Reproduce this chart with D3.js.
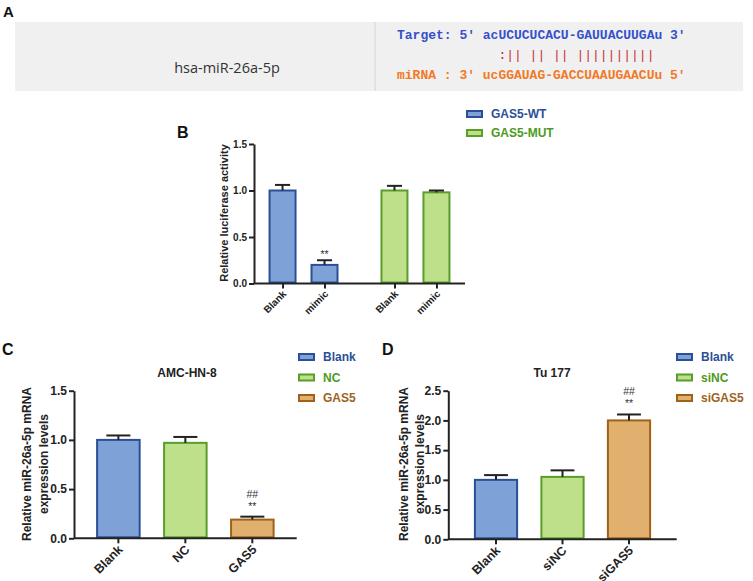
<!DOCTYPE html>
<html><head><meta charset="utf-8">
<script src="https://cdn.jsdelivr.net/npm/d3@7"></script>
<style>
body{margin:0;background:#fff;}
svg{display:block;font-family:"Liberation Sans",Arial,sans-serif;}
</style></head>
<body>
<svg id="c" width="753" height="581"></svg>
<script>
// ---------- data ----------
const mirnaName = "hsa-miR-26a-5p";
const seqTarget = "Target: 5' acUCUCUCACU-GAUUACUUGAu 3'";
const seqPairs  = ":|| || || ||||||||||";
const seqPairsOffset = 13; // character column where the pairing line starts
const seqMirna  = "miRNA : 3' ucGGAUAG-GACCUAAUGAACUu 5'";

const bGroups = ["GAS5-WT", "GAS5-MUT"];
const bCats = ["Blank", "mimic"];
const bWT = [1.00, 0.20];
const bWTerr = [0.06, 0.05];
const bMUT = [1.00, 0.98];
const bMUTerr = [0.05, 0.02];
const bMarks = [[], ["**"]];
const bTicks = [0, 0.5, 1.0, 1.5];

const cCats = ["Blank", "NC", "GAS5"];
const cVals = [1.00, 0.97, 0.19];
const cErr = [0.045, 0.06, 0.03];
const cMarks = [[], [], ["##", "**"]];
const cTicks = [0, 0.5, 1.0, 1.5];

const dCats = ["Blank", "siNC", "siGAS5"];
const dVals = [1.00, 1.05, 2.00];
const dErr = [0.08, 0.11, 0.10];
const dMarks = [[], [], ["##", "**"]];
const dTicks = [0, 0.5, 1.0, 1.5, 2.0, 2.5];

// ---------- styles ----------
const palette = [
  {fill:"#7ea2d8", stroke:"#2b4f96", text:"#2b4f96"},
  {fill:"#bfe08a", stroke:"#5a9e2a", text:"#4c9a22"},
  {fill:"#e1b06e", stroke:"#a0621a", text:"#a0621a"}
];
const ink = "#222";
const svg = d3.select("#c");
const fmt = d3.format(".1f");

// ---------- Panel A ----------
svg.append("text").attr("x",3).attr("y",17).attr("font-size",15).attr("font-weight","bold").attr("fill","#111").text("A");
svg.append("rect").attr("x",15).attr("y",22).attr("width",728).attr("height",69).attr("fill","#f0f0f0");
svg.append("line").attr("x1",375).attr("x2",375).attr("y1",22).attr("y2",91).attr("stroke","#d4d4d4").attr("stroke-width",1);
svg.append("text").attr("x",227).attr("y",73).attr("text-anchor","middle")
  .attr("font-family","'Open Sans',sans-serif").attr("font-size",14.5).attr("fill","#333").text(mirnaName);
const mono = svg.append("g").attr("font-family","'Liberation Mono','DejaVu Sans Mono',monospace")
  .attr("font-size",13).attr("font-weight","bold");
const tLine = mono.append("text").attr("x",397).attr("y",39).attr("fill","#3550cc").text(seqTarget);
const cw = tLine.node().getComputedTextLength() / seqTarget.length;
mono.append("text").attr("x",397 + seqPairsOffset*cw).attr("y",59).attr("fill","#cc2a3a").attr("font-weight","normal")
  .attr("xml:space","preserve").text(seqPairs);
mono.append("text").attr("x",397).attr("y",79).attr("fill","#f07a26").text(seqMirna);

// ---------- helpers ----------
function yAxis(g, y, ticks, fs){
  const ax = g.append("g").attr("transform",`translate(${y.x0},0)`)
    .call(d3.axisLeft(y).tickValues(ticks).tickFormat(fmt).tickSize(5).tickSizeOuter(0));
  ax.select(".domain").attr("stroke",ink).attr("stroke-width",2);
  ax.selectAll(".tick line").attr("stroke",ink).attr("stroke-width",2);
  ax.selectAll(".tick text").attr("font-size",fs).attr("font-weight","bold").attr("fill",ink)
    .attr("font-family","'Liberation Sans',Arial,sans-serif").attr("x",-7);
}
function xAxis(g, sc, x0, x1, yPos, fs, off){
  const ax = g.append("g").attr("transform",`translate(0,${yPos})`)
    .call(d3.axisBottom(sc).tickSize(5).tickSizeOuter(0));
  ax.select(".domain").remove();
  ax.append("line").attr("x1",x0).attr("x2",x1).attr("stroke",ink).attr("stroke-width",2);
  ax.selectAll(".tick line").attr("stroke",ink).attr("stroke-width",2);
  ax.selectAll(".tick text").attr("font-size",fs).attr("font-weight","bold").attr("fill",ink)
    .attr("font-family","'Liberation Sans',Arial,sans-serif")
    .attr("text-anchor","end").attr("dy",0).attr("y",0)
    .attr("transform",`translate(${off[0]},${off[1]}) rotate(-45)`);
  return ax;
}
function bar(g, x, w, v, e, y, pal){
  const y0 = y(0);
  g.append("rect").attr("x",x+1).attr("y",y(v)).attr("width",w-2).attr("height",y0-y(v)-1)
    .attr("fill",pal.fill).attr("stroke",pal.stroke).attr("stroke-width",2);
  const cx = x + w/2, cw = w*0.27;
  g.append("line").attr("x1",cx).attr("x2",cx).attr("y1",y(v)).attr("y2",y(v+e)).attr("stroke",ink).attr("stroke-width",2);
  g.append("line").attr("x1",cx-cw).attr("x2",cx+cw).attr("y1",y(v+e)).attr("y2",y(v+e)).attr("stroke",ink).attr("stroke-width",2);
}
function legend(g, x, y, items, dy, fs){
  items.forEach((t,i)=>{
    g.append("rect").attr("x",x).attr("y",y+i*dy-3).attr("width",15).attr("height",6)
      .attr("fill",palette[i].fill).attr("stroke",palette[i].stroke).attr("stroke-width",2);
    g.append("text").attr("x",x+24).attr("y",y+i*dy).attr("dy","0.35em").attr("font-size",fs)
      .attr("font-weight","bold").attr("fill",palette[i].text).text(t);
  });
}
function marks(g, cx, errTop, arr){
  const n = arr.length;
  arr.forEach((m,i)=>{
    g.append("text").attr("x",cx).attr("y",errTop - 7 - (n-1-i)*12).attr("text-anchor","middle")
      .attr("font-size",10.5).attr("fill","#333").text(m);
  });
}

// ---------- Panel B ----------
{
  const g = svg.append("g");
  g.append("text").attr("x",177).attr("y",138).attr("font-size",16).attr("font-weight","bold").attr("fill","#111").text("B");
  const y = d3.scaleLinear().domain([0,1.5]).range([283.5,144]); y.x0 = 254;
  const x0 = d3.scaleBand().domain(bGroups).range([254,465]).paddingInner(0.375).paddingOuter(0.13);
  const x1 = d3.scaleBand().domain(bCats).range([0,x0.bandwidth()]).paddingInner(1/3).paddingOuter(0);
  const keys = [], pos = [];
  const sets = [[bWT,bWTerr],[bMUT,bMUTerr]];
  bGroups.forEach((grp,gi)=>{
    bCats.forEach((c,ci)=>{
      const bx = x0(grp)+x1(c);
      const v = sets[gi][0][ci], e = sets[gi][1][ci];
      bar(g, bx, x1.bandwidth(), v, e, y, palette[gi]);
      keys.push(grp+"|"+c); pos.push(bx + x1.bandwidth()/2);
      if(gi===0) marks(g, bx + x1.bandwidth()/2, y(v+e) + 5, bMarks[ci]);
    });
  });
  const xs = d3.scaleOrdinal().domain(keys).range(pos);
  const ax = xAxis(g, xs, 254, 465, 283.5, 10, [4,11]);
  ax.selectAll(".tick text").text(d => d.split("|")[1]);
  yAxis(g, y, bTicks, 10);
  g.append("text").attr("transform","translate(228,213) rotate(-90)").attr("text-anchor","middle")
    .attr("font-size",11).attr("font-weight","bold").attr("fill",ink).text("Relative luciferase activity");
  legend(g, 467, 114, bGroups, 19, 12);
}

// ---------- Panels C & D ----------
function panel(opts){
  const g = svg.append("g");
  g.append("text").attr("x",opts.lx).attr("y",355).attr("font-size",16).attr("font-weight","bold").attr("fill","#111").text(opts.letter);
  const y = d3.scaleLinear().domain([0,opts.max]).range([opts.y0,390.7]); y.x0 = opts.ax;
  const x = d3.scaleBand().domain(opts.cats).range([opts.ax,opts.ax1]).paddingInner(0.335).paddingOuter(opts.po);
  opts.cats.forEach((c,i)=>{
    bar(g, x(c), x.bandwidth(), opts.vals[i], opts.err[i], y, palette[i]);
    marks(g, x(c)+x.bandwidth()/2, y(opts.vals[i]+opts.err[i]), opts.marks[i]);
  });
  xAxis(g, x, opts.ax, opts.ax1, opts.y0, 12.5, [5,12]);
  yAxis(g, y, opts.ticks, 12);
  const t = g.append("text").attr("transform",`translate(${opts.ylx},464) rotate(-90)`).attr("text-anchor","middle")
    .attr("font-size",12).attr("font-weight","bold").attr("fill",ink);
  t.append("tspan").attr("x",0).attr("dy",0).text("Relative miR-26a-5p mRNA");
  t.append("tspan").attr("x",0).attr("dy",16.5).text("expression levels");
  g.append("text").attr("x",opts.tx).attr("y",377).attr("text-anchor","middle").attr("font-size",12)
    .attr("font-weight","bold").attr("fill",ink).text(opts.title);
  legend(g, opts.legx, 357, opts.cats, 20.5, 12);
}
panel({letter:"C", lx:2, cats:cCats, vals:cVals, err:cErr, marks:cMarks, ticks:cTicks, max:1.5,
  ax:74, ax1:296.7, y0:538.3, po:0.33, ylx:31, tx:187, title:"AMC-HN-8", legx:299});
panel({letter:"D", lx:382, cats:dCats, vals:dVals, err:dErr, marks:dMarks, ticks:dTicks, max:2.5,
  ax:448.3, ax1:676.7, y0:539.3, po:0.385, ylx:407.5, tx:552, title:"Tu 177", legx:677});
</script>
</body></html>
